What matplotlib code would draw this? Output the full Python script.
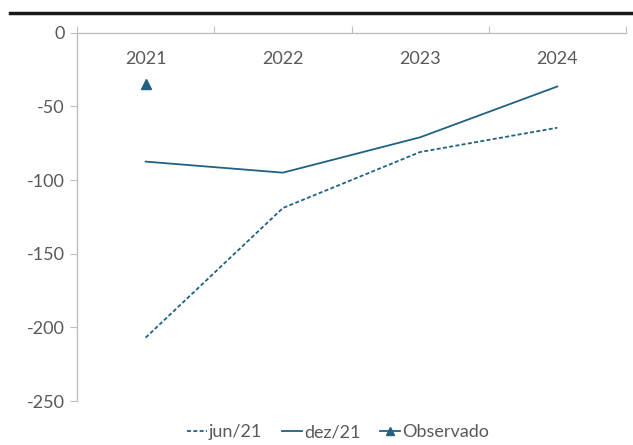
import matplotlib
matplotlib.use('Agg')
import matplotlib.pyplot as plt
from matplotlib.lines import Line2D

anos = ['2021', '2022', '2023', '2024']
jun21 = [-207, -119, -81, -64.5]
dez21 = [-87.5, -95, -71, -36.5]
observado = [-35]

cor = '#1f6284'
cinza = '#595959'

plt.rcParams['font.family'] = ['Lato', 'DejaVu Sans']
plt.rcParams['axes.unicode_minus'] = False

fig = plt.figure(figsize=(6.33, 4.45), dpi=100)
ax = fig.add_axes([77/633, 1 - 401/445, 549/633, (401 - 32.7)/445])

x = list(range(len(anos)))
ax.plot(x, jun21, color=cor, lw=1.3, ls=(0, (2.2, 1.3)), label='jun/21')
ax.plot(x, dez21, color=cor, lw=1.3, label='dez/21')
ax.plot(x[:len(observado)], observado, ls='none', marker='^', ms=7, color=cor, label='Observado')

ax.set_xlim(-0.5, len(anos) - 0.5)
ax.set_ylim(-250, 0)
ax.set_yticks([0, -50, -100, -150, -200, -250])

# eixo x no topo: marcas entre categorias, rótulos centrados abaixo da linha
ax.xaxis.tick_top()
ax.set_xticks([i - 0.5 for i in range(len(anos) + 1)])
ax.set_xticklabels([])
ax.set_xticks(x, minor=True)
ax.set_xticklabels(anos, minor=True)
ax.tick_params(axis='x', which='major', direction='out', length=5, color='#bfbfbf')
ax.tick_params(axis='x', which='minor', length=0, pad=-25, labelsize=13, labelcolor=cinza)
ax.tick_params(axis='y', direction='out', length=5, color='#bfbfbf', labelsize=13, labelcolor=cinza, pad=4)

for s in ['right', 'bottom']:
    ax.spines[s].set_visible(False)
for s in ['top', 'left']:
    ax.spines[s].set_color('#bfbfbf')
    ax.spines[s].set_linewidth(1)

# linha preta grossa acima do gráfico
fig.add_artist(Line2D([10/633, 1], [1 - 12.5/445, 1 - 12.5/445], color='#1a1a1a', lw=2.5))

handles = [
    Line2D([], [], color=cor, lw=1.3, ls=(0, (2.2, 1.3))),
    Line2D([], [], color=cor, lw=1.3),
    Line2D([], [], color=cor, lw=1.3, marker='^', ms=6),
]
fig.legend(handles, ['jun/21', 'dez/21', 'Observado'], loc='center', bbox_to_anchor=(338/633, 1 - 432/445),
           ncol=3, frameon=False, fontsize=13, handlelength=1.1, handletextpad=0.1, columnspacing=1.1,
           labelcolor=cinza)

fig.savefig('out.png', dpi=100)
